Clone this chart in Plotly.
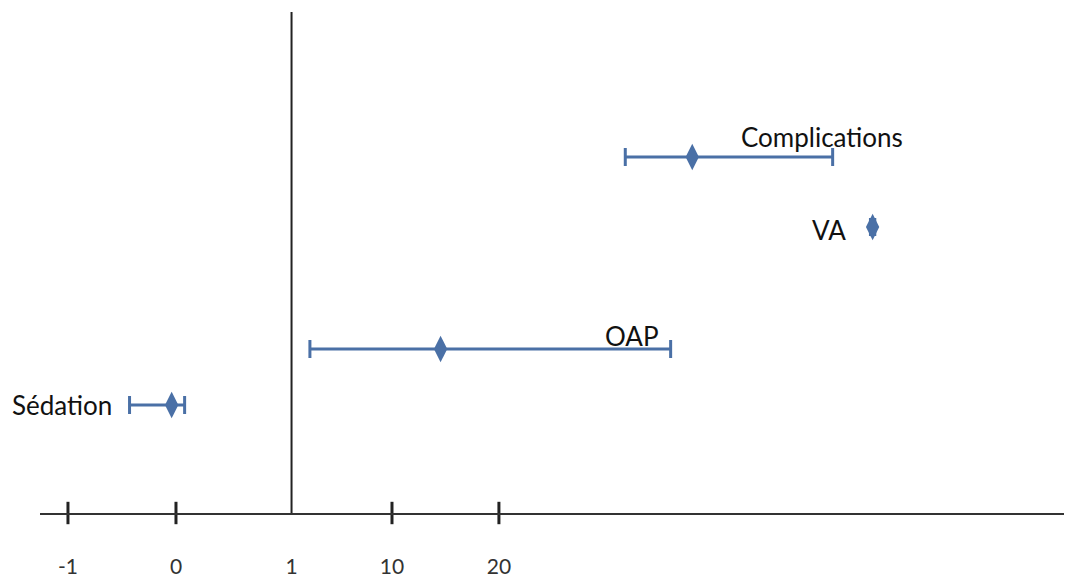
import plotly.graph_objects as go

# Axis tick positions (display units) and their labels
tick_pos = [-1, 0, 1.07, 2.0, 2.99]
tick_text = ["-1", "0", "1", "10", "20"]
ref_line = 1.07  # position of the "1" reference line

# Studies
labels = ["Complications", "VA", "OAP", "Sédation"]
rows = [3.56, 2.86, 1.64, 1.08]
estimate = [4.78, 6.45, 2.45, -0.04]
lower = [4.16, 6.43, 1.24, -0.43]
upper = [6.08, 6.47, 4.58, 0.08]

# label positions
label_x = [5.98, 6.05, 4.22, -1.056]
label_y = [3.76, 2.83, 1.77, 1.08]

color = "#4a70a6"

fig = go.Figure()
fig.add_trace(go.Scatter(
    x=estimate, y=rows, mode="markers",
    marker=dict(symbol="diamond-tall", size=19, color=color),
    error_x=dict(type="data", symmetric=False,
                 array=[u - e for u, e in zip(upper, estimate)],
                 arrayminus=[e - l for e, l in zip(estimate, lower)],
                 color=color, thickness=3, width=9),
    showlegend=False, hoverinfo="skip",
))

# tick marks crossing the axis (skip the "1" where the reference line sits)
mark_x = [p for p in tick_pos if p != ref_line]
fig.add_trace(go.Scatter(
    x=mark_x, y=[0] * len(mark_x), mode="markers",
    marker=dict(symbol="line-ns", size=16, line=dict(color="#222", width=3)),
    cliponaxis=False, showlegend=False, hoverinfo="skip",
))

fig.add_shape(type="line", xref="x", yref="paper", x0=ref_line, x1=ref_line,
              y0=0, y1=1, line=dict(color="#222", width=2))

for t, x, y in zip(labels, label_x, label_y):
    fig.add_annotation(x=x, y=y, text=t, showarrow=False,
                       font=dict(family="Lato", size=26, color="#111"),
                       xanchor="center", yanchor="middle")

fig.update_layout(
    width=1065, height=579,
    margin=dict(l=40, r=1, t=12, b=66),
    paper_bgcolor="white", plot_bgcolor="white",
    xaxis=dict(range=[-1.259, 8.222], tickvals=tick_pos, ticktext=tick_text,
               showgrid=False, zeroline=False, showline=True, automargin=False,
               linecolor="#333", linewidth=2,
               ticks="outside", ticklen=34, tickcolor="rgba(0,0,0,0)",
               tickfont=dict(family="Lato", size=21, color="#333")),
    yaxis=dict(range=[0, 5.01], visible=False, showgrid=False, zeroline=False),
)

fig.write_html("out.html", config={"displayModeBar": False},
               post_script="document.body.style.margin='0';document.body.style.overflow='hidden';")
